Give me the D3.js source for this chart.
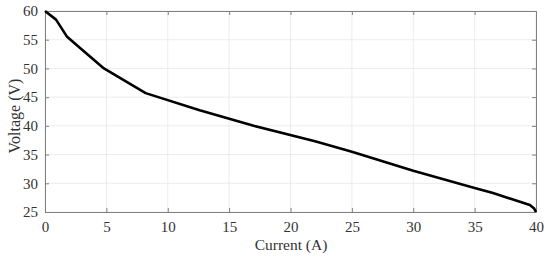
<!DOCTYPE html>
<html lang="en">
<head>
<meta charset="utf-8">
<script src="https://d3js.org/d3.v7.min.js"></script>
<style>
  body { margin: 0; background: #fff; }
</style>
</head>
<body>
<div id="chart"></div>
<script>
// values
const current = [0, 0.9, 1.8, 3.0, 4.8, 8.2, 12.6, 17, 22, 25, 30, 35, 36.5, 39.5, 39.85, 40];
const voltage = [60, 58.5, 55.5, 53.3, 50, 45.7, 42.7, 40, 37.3, 35.5, 32.2, 29.2, 28.3, 26.2, 25.6, 25];
const xTicks = [0, 5, 10, 15, 20, 25, 30, 35, 40];
const yTicks = [25, 30, 35, 40, 45, 50, 55, 60];

const W = 550, H = 258;
const margin = {top: 11, right: 14, bottom: 46, left: 45};
const width = W - margin.left - margin.right;
const height = H - margin.top - margin.bottom;
const serif = "'Liberation Serif', 'Times New Roman', serif";

const svg = d3.select("#chart").append("svg")
    .attr("width", W).attr("height", H);
const g = svg.append("g")
    .attr("transform", `translate(${margin.left},${margin.top})`);

const x = d3.scaleLinear().domain([0, 40]).range([0, width]);
const y = d3.scaleLinear().domain([25, 60]).range([height, 0]);

// grid
g.append("g").selectAll("line").data(xTicks).join("line")
    .attr("x1", d => x(d)).attr("x2", d => x(d))
    .attr("y1", 0).attr("y2", height)
    .attr("stroke", "#ececec").attr("stroke-width", 1);
g.append("g").selectAll("line").data(yTicks).join("line")
    .attr("x1", 0).attr("x2", width)
    .attr("y1", d => y(d)).attr("y2", d => y(d))
    .attr("stroke", "#ececec").attr("stroke-width", 1);

// axes (ticks pointing inward, box style)
function styleAxis(sel) {
    sel.attr("font-family", serif);
    sel.select(".domain").attr("stroke", "#808080");
    sel.selectAll(".tick line").attr("stroke", "#808080");
    sel.selectAll("text").style("font-family", serif).style("font-size", "15px").attr("fill", "#333");
}
g.append("g").attr("transform", `translate(0,${height})`)
    .call(d3.axisBottom(x).tickValues(xTicks).tickSize(-4).tickPadding(9).tickSizeOuter(0))
    .call(styleAxis);
g.append("g")
    .call(d3.axisLeft(y).tickValues(yTicks).tickSize(-4).tickPadding(7).tickSizeOuter(0))
    .call(styleAxis);
g.append("g")
    .call(d3.axisTop(x).tickValues(xTicks).tickSize(-4).tickFormat("").tickSizeOuter(0))
    .call(styleAxis);
g.append("g").attr("transform", `translate(${width},0)`)
    .call(d3.axisRight(y).tickValues(yTicks).tickSize(-4).tickFormat("").tickSizeOuter(0))
    .call(styleAxis);

// curve
const pts = current.map((c, i) => [c, voltage[i]]);
g.append("path")
    .datum(pts)
    .attr("fill", "none")
    .attr("stroke", "#000")
    .attr("stroke-width", 2.6)
    .attr("stroke-linejoin", "round")
    .attr("d", d3.line().x(d => x(d[0])).y(d => y(d[1])));

// labels
svg.append("text")
    .attr("x", 291).attr("y", 250)
    .attr("text-anchor", "middle")
    .style("font-family", serif)
    .style("font-size", "15.5px")
    .attr("fill", "#333")
    .text("Current (A)");
svg.append("text")
    .attr("transform", "translate(20,116) rotate(-90)")
    .attr("text-anchor", "middle")
    .style("font-family", serif)
    .style("font-size", "16px")
    .attr("fill", "#333")
    .text("Voltage (V)");
</script>
</body>
</html>
